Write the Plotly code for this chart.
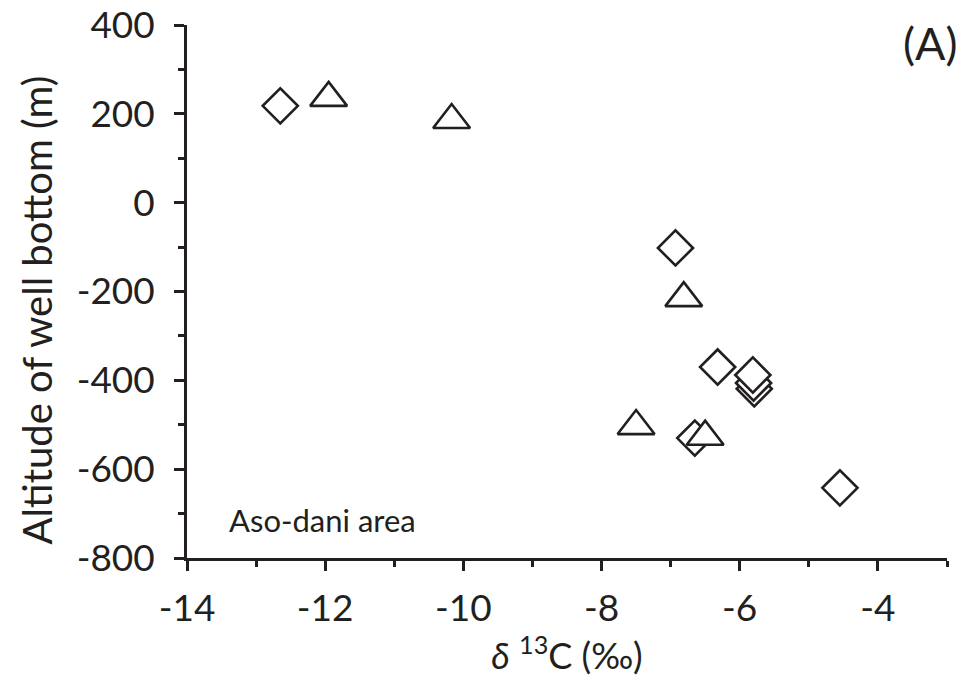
import plotly.graph_objects as go

# Data
diamond_x = [-12.65, -6.93, -6.32, -6.65, -4.55, -5.79, -5.80, -5.81]
diamond_y = [218, -102, -370, -530, -642, -419, -406, -388]

triangle_x = [-11.95, -10.17, -6.81, -7.50, -6.50]
triangle_y = [236, 186, -215, -503, -527]

x_ticks = [-14, -12, -10, -8, -6, -4]
y_ticks = [-800, -600, -400, -200, 0, 200, 400]

INK = "#231f20"
FONT = "Lato"

fig = go.Figure()
fig.add_trace(go.Scatter(
    x=diamond_x, y=diamond_y, mode="markers",
    marker=dict(symbol="diamond", size=27, color="white",
                line=dict(color=INK, width=2.6)),
    showlegend=False, cliponaxis=False))
fig.add_trace(go.Scatter(
    x=triangle_x, y=triangle_y, mode="markers",
    marker=dict(symbol="triangle-up", size=32, color="white",
                line=dict(color=INK, width=2.6)),
    showlegend=False, cliponaxis=False))

axis_common = dict(
    showgrid=False, zeroline=False, showline=True, linecolor=INK, linewidth=2.6,
    ticks="outside", ticklen=10, tickwidth=2.6, tickcolor=INK,
    tickfont=dict(family=FONT, size=37, color=INK),
    automargin=False,
)

fig.update_xaxes(
    range=[-14, -3], tickvals=x_ticks, ticktext=[str(v) for v in x_ticks],
    minor=dict(dtick=1, tick0=-14, ticks="outside", ticklen=6, tickwidth=2.6, tickcolor=INK),
    title=dict(text="<i>δ</i> <sup>13</sup>C (‰)", font=dict(family=FONT, size=36, color=INK), standoff=8),
    ticklabelstandoff=6,
    **axis_common)
fig.update_yaxes(
    range=[-800, 400], tickvals=y_ticks, ticktext=[str(v) for v in y_ticks],
    minor=dict(dtick=100, tick0=-800, ticks="outside", ticklen=6, tickwidth=2.6, tickcolor=INK),
    ticklabelstandoff=12,
    **axis_common)

# y-axis title (placed as rotated text, slightly below the axis centre as in the reference)
fig.add_annotation(text="Altitude of well bottom (m)", xref="paper", yref="paper",
                   x=-0.197, y=0.465, xanchor="center", yanchor="middle",
                   textangle=-90, showarrow=False,
                   font=dict(family=FONT, size=40, color=INK))
fig.add_annotation(text="(A)", xref="paper", yref="paper", x=1.017, y=0.966,
                   xanchor="right", yanchor="middle", showarrow=False,
                   font=dict(family=FONT, size=45, color=INK))
fig.add_annotation(text="Aso-dani area", xref="paper", yref="paper", x=0.052, y=0.071,
                   xanchor="left", yanchor="middle", showarrow=False,
                   font=dict(family=FONT, size=31, color=INK))

fig.update_layout(
    width=964, height=683,
    margin=dict(l=187, r=17, t=25, b=125),
    paper_bgcolor="white", plot_bgcolor="white",
)

fig.write_html("out.html")
